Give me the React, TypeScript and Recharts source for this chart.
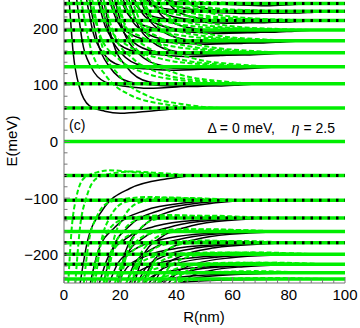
import { LineChart, Line, XAxis, YAxis } from "recharts";

type Pt = [number, number];

const axisColor = "#777";
const green = "#00ee00";
const font = "'Liberation Sans', Arial, sans-serif";

// tick values
const xMajor = [0, 20, 40, 60, 80, 100];
const xTicks = [0, 4, 8, 12, 16, 20, 24, 28, 32, 36, 40, 44, 48, 52, 56, 60, 64, 68, 72, 76, 80, 84, 88, 92, 96, 100];
const yMajor = [-200, -100, 0, 100, 200];
const yTicks = [-240, -220, -200, -180, -160, -140, -120, -100, -80, -60, -40, -20, 0, 20, 40, 60, 80, 100, 120, 140, 160, 180, 200, 220, 240];

// flat levels (meV) and how far (nm) the black line under the green one runs
const levels = [244, 230, 214, 197, 178, 157, 132, 102, 59, 0, -60, -104, -135, -159, -179, -199, -217, -232, -243];
const blackUnder: Pt[] = [
  [244, 100], [230, 100], [214, 100], [197, 50], [178, 50], [157, 50], [102, 45], [59, 45],
  [-60, 100], [-104, 100], [-135, 100], [-179, 100], [-199, 40], [-217, 40],
];

// [R(nm), E(meV)]
const upperSolid: Pt[][] = [
  [[1.8, 252], [3.3, 155.5], [5.4, 97.6], [9.1, 62.9], [14.5, 53.6], [20, 50], [32, 54.5], [45, 59], [100, 59]],
  [[4.5, 252], [6.5, 177], [9.6, 132], [14.7, 105], [22.4, 97.2], [30, 94], [45, 98], [60, 102], [100, 102]],
  [[9, 252], [11.9, 177], [16.2, 132], [23.4, 105], [34.2, 99], [45, 97], [54, 99.5], [62, 102], [100, 102]],
  [[14, 252], [17.3, 177], [22.2, 132], [30.4, 105], [42.7, 99.6], [55, 98], [63, 100], [70, 102], [100, 102]],
  [[8, 252], [10.4, 192], [14, 156], [20, 134.4], [29, 128.4], [38, 126], [54, 129], [70, 132], [100, 132]],
  [[13, 252], [16, 192], [20.4, 156], [27.8, 134.4], [38.9, 129.6], [50, 128], [61, 130], [72, 132], [100, 132]],
  [[18, 252], [21.4, 192], [26.4, 156], [34.8, 134.4], [47.4, 129.6], [60, 128], [69, 130], [78, 132], [100, 132]],
  [[12, 252], [14.6, 204.5], [18.6, 176], [25.2, 158.9], [35.1, 152.8], [45, 150], [60, 153.5], [75, 157], [100, 157]],
  [[17, 252], [20, 204.5], [24.6, 176], [32.2, 158.9], [43.6, 154], [55, 152], [66, 154.5], [78, 157], [100, 157]],
  [[23, 252], [26.4, 204.5], [31.4, 176], [39.8, 158.9], [52.4, 154.6], [65, 153], [74, 155], [82, 157], [100, 157]],
  [[16, 252], [18.7, 215], [22.8, 192.8], [29.6, 179.5], [39.8, 174.4], [50, 172], [64, 175], [78, 178], [100, 178]],
  [[21, 252], [24.1, 215], [28.8, 192.8], [36.6, 179.5], [48.3, 175], [60, 173], [71, 175.5], [82, 178], [100, 178]],
  [[27, 252], [30.4, 215], [35.6, 192.8], [44.2, 179.5], [57.1, 175.6], [70, 174], [78, 176], [86, 178], [100, 178]],
  [[20, 252], [22.8, 224.5], [27, 208], [34, 198.1], [44.5, 193.4], [55, 191], [68.5, 194], [82, 197], [100, 197]],
  [[25, 252], [28.2, 224.5], [33, 208], [41, 198.1], [53, 194], [65, 192], [75.5, 194.5], [86, 197], [100, 197]],
  [[31, 252], [34.4, 224.5], [39.6, 208], [48.2, 198.1], [61.1, 194.6], [74, 193], [82, 195], [90, 197], [100, 197]],
  [[24, 252], [26.9, 233], [31.2, 221.6], [38.4, 214.8], [49.2, 211], [60, 209], [72.5, 211.5], [85, 214], [100, 214]],
  [[30, 252], [33.2, 233], [38, 221.6], [46, 214.8], [58, 211.6], [70, 210], [80, 212], [90, 214], [100, 214]],
  [[36, 252], [39.4, 233], [44.4, 221.6], [52.8, 214.8], [65.4, 212.2], [78, 211], [86, 212.5], [93, 214], [100, 214]],
  [[29, 252], [31.9, 241], [36.2, 234.4], [43.4, 230.4], [54.2, 227.6], [65, 226], [76.5, 228], [88, 230], [100, 230]],
  [[36, 252], [39.1, 241], [43.8, 234.4], [51.6, 230.4], [63.3, 228.2], [75, 227], [84, 228.5], [93, 230], [100, 230]],
  [[43, 252], [46.1, 241], [50.8, 234.4], [58.6, 230.4], [70.3, 228.2], [82, 227], [89, 228.5], [96, 230], [100, 230]],
  [[35, 252], [38, 248], [42.4, 245.6], [49.8, 244.2], [60.9, 241.6], [72, 240], [82, 242], [92, 244], [100, 244]],
];

const upperDashed: Pt[][] = [
  [[6, 252], [9.5, 165], [14.8, 117], [23.6, 82], [36.8, 65], [50, 59], [100, 59]],
  [[10, 252], [13.8, 165], [19.6, 117], [29.2, 82], [43.6, 65], [58, 59], [100, 59]],
  [[9, 252], [13.1, 184.5], [19.2, 147], [29.4, 120], [44.7, 106.5], [60, 102], [100, 102]],
  [[14, 252], [18.2, 184.5], [24.4, 147], [34.8, 120], [50.4, 106.5], [66, 102], [100, 102]],
  [[19, 252], [23.2, 184.5], [29.6, 147], [40.2, 120], [56.1, 106.5], [72, 102], [100, 102]],
  [[12, 252], [16.5, 198], [23.2, 168], [34.4, 146.4], [51.2, 135.6], [68, 132], [100, 132]],
  [[18, 252], [22.5, 198], [29.2, 168], [40.4, 146.4], [57.2, 135.6], [74, 132], [100, 132]],
  [[24, 252], [28.5, 198], [35.2, 168], [46.4, 146.4], [63.2, 135.6], [80, 132], [100, 132]],
  [[16, 252], [20.5, 209.3], [27.2, 185.5], [38.4, 168.4], [55.2, 159.9], [72, 157], [100, 157]],
  [[22, 252], [26.5, 209.3], [33.2, 185.5], [44.4, 168.4], [61.2, 159.9], [78, 157], [100, 157]],
  [[28, 252], [32.5, 209.3], [39.2, 185.5], [50.4, 168.4], [67.2, 159.9], [84, 157], [100, 157]],
  [[20, 252], [24.5, 218.7], [31.2, 200.2], [42.4, 186.9], [59.2, 180.2], [76, 178], [100, 178]],
  [[27, 252], [31.4, 218.7], [38, 200.2], [49, 186.9], [65.5, 180.2], [82, 178], [100, 178]],
  [[33, 252], [37.4, 218.7], [44, 200.2], [55, 186.9], [71.5, 180.2], [88, 178], [100, 178]],
  [[24, 252], [28.5, 227.3], [35.2, 213.5], [46.4, 203.6], [63.2, 198.7], [80, 197], [100, 197]],
  [[31, 252], [35.4, 227.3], [42, 213.5], [53, 203.6], [69.5, 198.7], [86, 197], [100, 197]],
  [[38, 252], [42.4, 227.3], [49, 213.5], [60, 203.6], [76.5, 198.7], [92, 197], [100, 197]],
  [[28, 252], [32.5, 234.9], [39.2, 225.4], [50.4, 218.6], [67.2, 215.1], [84, 214], [100, 214]],
  [[36, 252], [40.3, 234.9], [46.8, 225.4], [57.6, 218.6], [73.8, 215.1], [90, 214], [100, 214]],
  [[43, 252], [47.2, 234.9], [53.6, 225.4], [64.2, 218.6], [80.1, 215.1], [96, 214], [100, 214]],
  [[33, 252], [37.4, 242.1], [44, 236.6], [55, 232.6], [71.5, 230.7], [88, 230], [100, 230]],
  [[41, 252], [45.2, 242.1], [51.6, 236.6], [62.2, 232.6], [78.1, 230.7], [94, 230], [100, 230]],
  [[40, 252], [44.2, 247.6], [50.4, 246.4], [60.8, 245], [76.4, 244.2], [92, 244], [100, 244]],
];

const lowerSolid: Pt[][] = [
  [[5.7, -252], [8.4, -175.2], [13.7, -121.4], [23.4, -83], [36.7, -65.8], [50, -60], [100, -60]],
  [[9.3, -252], [12.2, -192.8], [18.1, -151.4], [28.8, -121.8], [43.4, -108.4], [58, -104], [100, -104]],
  [[14, -252], [17, -192.8], [22.8, -151.4], [34, -121.8], [49, -108.4], [64, -104], [100, -104]],
  [[19, -252], [22, -192.8], [27.8, -151.4], [39, -121.8], [54, -108.4], [70, -104], [100, -104]],
  [[12.5, -252], [15.6, -205.2], [21.8, -172.4], [33.1, -149], [48.5, -138.5], [64, -135], [100, -135]],
  [[19, -252], [21.9, -205.2], [27.6, -172.4], [39.4, -149], [54.7, -138.5], [70, -135], [100, -135]],
  [[25, -252], [27.9, -205.2], [33.6, -172.4], [45.4, -149], [60.7, -138.5], [76, -135], [100, -135]],
  [[16, -252], [19.2, -214.8], [25.7, -188.8], [37.6, -170.2], [53.8, -161.8], [70, -159], [100, -159]],
  [[22, -252], [25.2, -214.8], [31.7, -188.8], [43.6, -170.2], [59.8, -161.8], [76, -159], [100, -159]],
  [[28, -252], [31.2, -214.8], [37.7, -188.8], [49.6, -170.2], [65.8, -161.8], [82, -159], [100, -159]],
  [[19, -252], [22.4, -222.8], [29.1, -202.4], [41.4, -187.8], [58.2, -181.2], [75, -179], [100, -179]],
  [[26, -252], [29.2, -222.8], [35.7, -202.4], [47.6, -187.8], [63.8, -181.2], [80, -179], [100, -179]],
  [[32, -252], [35.2, -222.8], [41.7, -202.4], [53.6, -187.8], [69.8, -181.2], [86, -179], [100, -179]],
  [[23, -252], [26.4, -230.8], [33.3, -216], [45.8, -205.4], [62.9, -200.6], [80, -199], [100, -199]],
  [[30, -252], [33.4, -230.8], [40.1, -216], [52.4, -205.4], [69.2, -200.6], [86, -199], [100, -199]],
  [[37, -252], [40.4, -230.8], [47.1, -216], [59.4, -205.4], [76.2, -200.6], [92, -199], [100, -199]],
  [[28, -252], [31.5, -238], [38.4, -228.2], [51.2, -221.2], [68.6, -218], [86, -217], [100, -217]],
  [[35, -252], [38.4, -238], [45.1, -228.2], [57.4, -221.2], [74.2, -218], [91, -217], [100, -217]],
  [[42, -252], [45.3, -238], [51.9, -228.2], [64, -221.2], [80.5, -218], [96, -217], [100, -217]],
  [[33, -252], [36.5, -244], [43.4, -238.4], [56.2, -234.4], [73.6, -232.6], [91, -232], [100, -232]],
  [[41, -252], [44.3, -244], [50.9, -238.4], [63, -234.4], [79.5, -232.6], [96, -232], [100, -232]],
  [[40, -252], [43.4, -248.4], [50.1, -245.9], [62.4, -244.1], [79.2, -243.3], [96, -243], [100, -243]],
];

const lowerDashed: Pt[][] = [
  [[1.5, -252], [2.7, -156], [4.4, -98.4], [7.3, -63.8], [11.7, -54.6], [16, -51], [28, -55.5], [40, -60], [100, -60]],
  [[4, -252], [5.6, -156], [8, -98.4], [12, -63.8], [18, -55.8], [24, -53], [36, -56.5], [48, -60], [100, -60]],
  [[7, -252], [8.8, -178], [11.6, -133.6], [16.2, -107], [23.1, -100.4], [30, -98], [42, -101], [55, -104], [100, -104]],
  [[11, -252], [13.2, -178], [16.4, -133.6], [21.8, -107], [29.9, -101], [38, -99], [49, -101.5], [60, -104], [100, -104]],
  [[15, -252], [17.5, -178], [21.2, -133.6], [27.4, -107], [36.7, -101.6], [46, -100], [56, -102], [66, -104], [100, -104]],
  [[10, -252], [12.2, -193.5], [15.6, -158.4], [21.2, -137.3], [29.6, -132], [38, -130], [50, -132.5], [62, -135], [100, -135]],
  [[15, -252], [17.4, -193.5], [21, -158.4], [27, -137.3], [36, -132.6], [45, -131], [56, -133], [68, -135], [100, -135]],
  [[20, -252], [22.6, -193.5], [26.4, -158.4], [32.8, -137.3], [42.4, -132.6], [52, -131], [63, -133], [74, -135], [100, -135]],
  [[14, -252], [16.4, -205.5], [20, -177.6], [26, -160.9], [35, -156.6], [44, -155], [57, -157], [70, -159], [100, -159]],
  [[19, -252], [21.6, -205.5], [25.6, -177.6], [32.2, -160.9], [42.1, -156.6], [52, -155], [63.5, -157], [75, -159], [100, -159]],
  [[24, -252], [26.7, -205.5], [30.8, -177.6], [37.6, -160.9], [47.8, -157.2], [58, -156], [69, -157.5], [80, -159], [100, -159]],
  [[18, -252], [20.6, -215.5], [24.4, -193.6], [30.8, -180.5], [40.4, -176.6], [50, -175], [62.5, -177], [75, -179], [100, -179]],
  [[24, -252], [26.7, -215.5], [30.8, -193.6], [37.6, -180.5], [47.8, -177.2], [58, -176], [70, -177.5], [82, -179], [100, -179]],
  [[29, -252], [31.8, -215.5], [36, -193.6], [43, -180.5], [53.5, -177.2], [64, -176], [75, -177.5], [86, -179], [100, -179]],
  [[22, -252], [24.7, -225.5], [28.8, -209.6], [35.6, -200.1], [45.8, -197.2], [56, -196], [69, -197.5], [82, -199], [100, -199]],
  [[28, -252], [30.9, -225.5], [35.2, -209.6], [42.4, -200.1], [53.2, -197.2], [64, -196], [76, -197.5], [88, -199], [100, -199]],
  [[34, -252], [36.9, -225.5], [41.2, -209.6], [48.4, -200.1], [59.2, -197.2], [70, -196], [81, -197.5], [92, -199], [100, -199]],
  [[26, -252], [28.9, -234.5], [33.2, -224], [40.4, -217.7], [51.2, -215.2], [62, -214], [75, -215.5], [88, -217], [100, -217]],
  [[33, -252], [36, -234.5], [40.4, -224], [47.8, -217.7], [58.9, -215.2], [70, -214], [81.5, -215.5], [93, -217], [100, -217]],
  [[39, -252], [42, -234.5], [46.4, -224], [53.8, -217.7], [64.9, -215.2], [76, -214], [86, -215.5], [96, -217], [100, -217]],
  [[31, -252], [34, -242], [38.4, -236], [45.8, -232.4], [56.9, -230.2], [68, -229], [80, -230.5], [92, -232], [100, -232]],
  [[38, -252], [40.9, -247.5], [45.2, -244.8], [52.4, -243.2], [63.2, -241.8], [74, -241], [85, -242], [96, -243], [100, -243]],
];

const rows = (c: Pt[]) => c.map(([x, y]) => ({ x, y }));
const fmt = (v: number) => (v < 0 ? "\u2212" + Math.abs(v) : String(v));

const LeftTick = (p: any) => {
  const v = p.payload.value;
  const major = yMajor.includes(v);
  return (
    <g>
      <line x1={p.x} x2={p.x + (major ? 6 : 3.5)} y1={p.y} y2={p.y} stroke={axisColor} strokeWidth={1} />
      {major && (
        <text x={p.x - 6} y={p.y} dy="0.36em" textAnchor="end" fontSize={15} fontFamily={font} fill="#000">
          {fmt(v)}
        </text>
      )}
    </g>
  );
};

const RightTick = (p: any) => {
  const major = yMajor.includes(p.payload.value);
  return <line x1={p.x} x2={p.x - (major ? 6 : 3.5)} y1={p.y} y2={p.y} stroke={axisColor} strokeWidth={1} />;
};

const BottomTick = (p: any) => {
  const v = p.payload.value;
  const major = xMajor.includes(v);
  return (
    <g>
      <line x1={p.x} x2={p.x} y1={p.y} y2={p.y - (major ? 6 : 3.5)} stroke={axisColor} strokeWidth={1} />
      {major && (
        <text x={p.x} y={p.y + 17} textAnchor="middle" fontSize={15} fontFamily={font} fill="#000">
          {v}
        </text>
      )}
    </g>
  );
};

const TopTick = (p: any) => {
  const major = xMajor.includes(p.payload.value);
  return <line x1={p.x} x2={p.x} y1={p.y} y2={p.y + (major ? 6 : 3.5)} stroke={axisColor} strokeWidth={1} />;
};

const common = { dataKey: "y", type: "monotone" as const, dot: false, activeDot: false, isAnimationActive: false };

export default function App() {
  return (
    <div style={{ position: "absolute", left: 0, top: 0, width: 360, height: 328, background: "#fff" }}>
      <LineChart width={360} height={328} margin={{ top: 0, right: 15, bottom: 0, left: 0 }}>
        <XAxis dataKey="x" type="number" domain={[0, 100]} ticks={xTicks} interval={0} allowDataOverflow
          height={45} tickSize={0} tickMargin={0} tick={BottomTick} stroke={axisColor} />
        <XAxis xAxisId="t" orientation="top" dataKey="x" type="number" domain={[0, 100]} ticks={xTicks}
          interval={0} height={0} tickSize={0} tickMargin={0} tick={TopTick} stroke={axisColor} />
        <YAxis type="number" domain={[-250, 250]} ticks={yTicks} interval={0} allowDataOverflow
          width={64} tickSize={0} tickMargin={0} tick={LeftTick} stroke={axisColor} />
        <YAxis yAxisId="r" orientation="right" type="number" domain={[-250, 250]} ticks={yTicks} interval={0}
          width={0} tickSize={0} tickMargin={0} tick={RightTick} stroke={axisColor} />

        {[...upperSolid, ...lowerSolid].map((c, i) => (
          <Line key={"s" + i} {...common} data={rows(c)} stroke="#000" strokeWidth={1.5} />
        ))}
        {[...upperDashed, ...lowerDashed].map((c, i) => (
          <Line key={"d" + i} {...common} data={rows(c)} stroke={green} strokeWidth={2} strokeDasharray="5 2.5" />
        ))}
        {levels.map((L) => (
          <Line key={"g" + L} {...common} type="linear" data={rows([[0, L], [100, L]])} stroke={green} strokeWidth={3.5} />
        ))}
        {blackUnder.map(([L, r]) => (
          <Line key={"b" + L} {...common} type="linear" data={rows([[0, L], [r, L]])} stroke="#000"
            strokeWidth={3} strokeDasharray="2.5 6" />
        ))}
      </LineChart>
      <svg width={360} height={328} style={{ position: "absolute", left: 0, top: 0, pointerEvents: "none" }}>
        <text x={69} y={130} fontSize={14} fontFamily={font}>(c)</text>
        <text x={275} y={133} textAnchor="end" fontSize={14} fontFamily={font}>Δ = 0 meV,</text>
        <text x={335} y={133} textAnchor="end" fontSize={14} fontFamily={font}>
          <tspan fontStyle="italic">η</tspan> = 2.5
        </text>
        <text x={204} y={322} textAnchor="middle" fontSize={15} fontFamily={font}>R(nm)</text>
        <text x={17} y={141} textAnchor="middle" fontSize={15} fontFamily={font} transform="rotate(-90 17 141)">
          E(meV)
        </text>
      </svg>
    </div>
  );
}
